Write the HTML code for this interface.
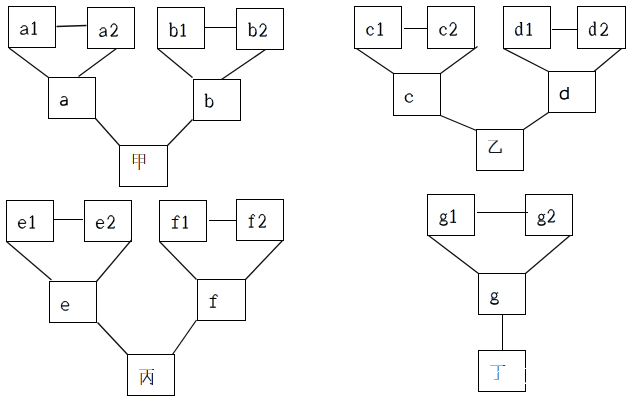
<!DOCTYPE html><html><head><meta charset="utf-8"><style>html,body{margin:0;padding:0;background:#fff;width:639px;height:405px;overflow:hidden}svg{display:block}</style></head><body>
<svg width="639" height="405" viewBox="0 0 639 405">
<g fill="none" stroke="#000" stroke-width="1" shape-rendering="crispEdges">
<rect x="8.5" y="6.5" width="47" height="41"/>
<rect x="87.5" y="7.5" width="47" height="41"/>
<rect x="48.5" y="77.5" width="47" height="41"/>
<rect x="157.5" y="7.5" width="47" height="41"/>
<rect x="236.5" y="8.5" width="47" height="41"/>
<rect x="193.5" y="79.5" width="47" height="41"/>
<rect x="119.5" y="145.5" width="48" height="41"/>
<rect x="354.5" y="6.5" width="47" height="42"/>
<rect x="427.5" y="6.5" width="47" height="42"/>
<rect x="393.5" y="73.5" width="47" height="42"/>
<rect x="503.5" y="6.5" width="47" height="42"/>
<rect x="577.5" y="6.5" width="48" height="42"/>
<rect x="548.5" y="71.5" width="47" height="41"/>
<rect x="476.5" y="129.5" width="47" height="41"/>
<rect x="6.5" y="200.5" width="47" height="41"/>
<rect x="84.5" y="200.5" width="47" height="41"/>
<rect x="49.5" y="281.5" width="47" height="41"/>
<rect x="159.5" y="200.5" width="47" height="41"/>
<rect x="236.5" y="199.5" width="47" height="41"/>
<rect x="197.5" y="279.5" width="48" height="41"/>
<rect x="127.5" y="354.5" width="47" height="41"/>
<rect x="427.5" y="194.5" width="47" height="41"/>
<rect x="525.5" y="194.5" width="47" height="41"/>
<rect x="478.5" y="273.5" width="47" height="41"/>
<rect x="478.5" y="350.5" width="47" height="41"/>
</g><g stroke="#111" stroke-width="1.3" fill="none">
<line x1="56.5" y1="26.5" x2="86.5" y2="25.5"/>
<line x1="9.0" y1="48.0" x2="48.5" y2="77.5"/>
<line x1="116.5" y1="48.5" x2="78.5" y2="76.5"/>
<line x1="95.5" y1="118.5" x2="119.5" y2="145.5"/>
<line x1="204.5" y1="27.5" x2="236.5" y2="27.5" stroke-width="1" shape-rendering="crispEdges" stroke="#000"/>
<line x1="157.5" y1="48.5" x2="192.5" y2="77.5"/>
<line x1="265.5" y1="49.5" x2="221.5" y2="79.5"/>
<line x1="192.5" y1="119.5" x2="167.5" y2="145.5"/>
<line x1="403.5" y1="28.5" x2="427.5" y2="28.5" stroke-width="1" shape-rendering="crispEdges" stroke="#000"/>
<line x1="356.5" y1="48.5" x2="393.5" y2="73.5"/>
<line x1="477.5" y1="46.5" x2="440.5" y2="73.5"/>
<line x1="440.5" y1="115.5" x2="476.5" y2="130.5"/>
<line x1="551.5" y1="29.5" x2="577.5" y2="29.5" stroke-width="1" shape-rendering="crispEdges" stroke="#000"/>
<line x1="503.5" y1="48.5" x2="548.5" y2="71.5"/>
<line x1="621.5" y1="48.5" x2="594.0" y2="71.5"/>
<line x1="548.5" y1="112.5" x2="523.5" y2="129.5"/>
<line x1="53.5" y1="219.5" x2="82.5" y2="219.5" stroke-width="1" shape-rendering="crispEdges" stroke="#000"/>
<line x1="6.5" y1="241.5" x2="51.5" y2="280.0"/>
<line x1="131.5" y1="240.0" x2="96.5" y2="281.5"/>
<line x1="97.5" y1="322.5" x2="127.5" y2="354.5"/>
<line x1="208.5" y1="220.5" x2="236.5" y2="220.5" stroke-width="1" shape-rendering="crispEdges" stroke="#000"/>
<line x1="159.5" y1="241.5" x2="196.5" y2="279.5"/>
<line x1="282.5" y1="240.5" x2="245.5" y2="279.5"/>
<line x1="196.5" y1="320.0" x2="172.5" y2="354.5"/>
<line x1="476.5" y1="212.5" x2="527.5" y2="212.5" stroke-width="1" shape-rendering="crispEdges" stroke="#000"/>
<line x1="428.5" y1="235.5" x2="478.5" y2="273.5"/>
<line x1="570.0" y1="235.5" x2="525.5" y2="273.5"/>
<line x1="502.5" y1="314.5" x2="502.5" y2="350.5" stroke-width="1" shape-rendering="crispEdges" stroke="#000"/>
</g>
<g fill="none" stroke-linecap="butt" stroke-linejoin="round">
<path transform="translate(20.15 25.70) scale(7.700 8.500)" d="M0.1,0.22 C0.14,0.06 0.32,0 0.5,0 C0.74,0 0.84,0.12 0.84,0.32 M0.84,0.9 Q0.86,1 1,0.97 M0.84,0.44 C0.45,0.5 0.05,0.56 0.02,0.78 M0.34,1 C0.56,1 0.74,0.9 0.84,0.78" stroke="#f6cc90" stroke-width="1.0" vector-effect="non-scaling-stroke"/>
<path transform="translate(20.15 25.70) scale(7.700 8.500)" d="M0.84,0.3 V0.92 M0.1,0.16 V0.28 M0.02,0.78 C0,0.94 0.14,1 0.34,1" stroke="#f6cc90" stroke-width="1.3" vector-effect="non-scaling-stroke"/>
<path transform="translate(21.05 25.70) scale(7.700 8.500)" d="M0.1,0.22 C0.14,0.06 0.32,0 0.5,0 C0.74,0 0.84,0.12 0.84,0.32 M0.84,0.9 Q0.86,1 1,0.97 M0.84,0.44 C0.45,0.5 0.05,0.56 0.02,0.78 M0.34,1 C0.56,1 0.74,0.9 0.84,0.78" stroke="#80b8f4" stroke-width="1.0" vector-effect="non-scaling-stroke"/>
<path transform="translate(21.05 25.70) scale(7.700 8.500)" d="M0.84,0.3 V0.92 M0.1,0.16 V0.28 M0.02,0.78 C0,0.94 0.14,1 0.34,1" stroke="#80b8f4" stroke-width="1.3" vector-effect="non-scaling-stroke"/>
<path transform="translate(20.60 25.70) scale(7.700 8.500)" d="M0.1,0.22 C0.14,0.06 0.32,0 0.5,0 C0.74,0 0.84,0.12 0.84,0.32 M0.84,0.9 Q0.86,1 1,0.97 M0.84,0.44 C0.45,0.5 0.05,0.56 0.02,0.78 M0.34,1 C0.56,1 0.74,0.9 0.84,0.78" stroke="#000" stroke-width="1.0" vector-effect="non-scaling-stroke"/>
<path transform="translate(20.60 25.70) scale(7.700 8.500)" d="M0.84,0.3 V0.92 M0.1,0.16 V0.28 M0.02,0.78 C0,0.94 0.14,1 0.34,1" stroke="#000" stroke-width="1.3" vector-effect="non-scaling-stroke"/>
<path transform="translate(31.25 21.80) scale(5.000 12.400)" d="M0.56,0.02 L0.06,0.18 M0,1 H1" stroke="#f6cc90" stroke-width="1.0" vector-effect="non-scaling-stroke"/>
<path transform="translate(31.25 21.80) scale(5.000 12.400)" d="M0.56,0 V1" stroke="#f6cc90" stroke-width="1.3" vector-effect="non-scaling-stroke"/>
<path transform="translate(32.15 21.80) scale(5.000 12.400)" d="M0.56,0.02 L0.06,0.18 M0,1 H1" stroke="#80b8f4" stroke-width="1.0" vector-effect="non-scaling-stroke"/>
<path transform="translate(32.15 21.80) scale(5.000 12.400)" d="M0.56,0 V1" stroke="#80b8f4" stroke-width="1.3" vector-effect="non-scaling-stroke"/>
<path transform="translate(31.70 21.80) scale(5.000 12.400)" d="M0.56,0.02 L0.06,0.18 M0,1 H1" stroke="#000" stroke-width="1.0" vector-effect="non-scaling-stroke"/>
<path transform="translate(31.70 21.80) scale(5.000 12.400)" d="M0.56,0 V1" stroke="#000" stroke-width="1.3" vector-effect="non-scaling-stroke"/>
<path transform="translate(99.25 27.80) scale(7.250 8.500)" d="M0.1,0.22 C0.14,0.06 0.32,0 0.5,0 C0.74,0 0.84,0.12 0.84,0.32 M0.84,0.9 Q0.86,1 1,0.97 M0.84,0.44 C0.45,0.5 0.05,0.56 0.02,0.78 M0.34,1 C0.56,1 0.74,0.9 0.84,0.78" stroke="#f6cc90" stroke-width="1.0" vector-effect="non-scaling-stroke"/>
<path transform="translate(99.25 27.80) scale(7.250 8.500)" d="M0.84,0.3 V0.92 M0.1,0.16 V0.28 M0.02,0.78 C0,0.94 0.14,1 0.34,1" stroke="#f6cc90" stroke-width="1.3" vector-effect="non-scaling-stroke"/>
<path transform="translate(100.15 27.80) scale(7.250 8.500)" d="M0.1,0.22 C0.14,0.06 0.32,0 0.5,0 C0.74,0 0.84,0.12 0.84,0.32 M0.84,0.9 Q0.86,1 1,0.97 M0.84,0.44 C0.45,0.5 0.05,0.56 0.02,0.78 M0.34,1 C0.56,1 0.74,0.9 0.84,0.78" stroke="#80b8f4" stroke-width="1.0" vector-effect="non-scaling-stroke"/>
<path transform="translate(100.15 27.80) scale(7.250 8.500)" d="M0.84,0.3 V0.92 M0.1,0.16 V0.28 M0.02,0.78 C0,0.94 0.14,1 0.34,1" stroke="#80b8f4" stroke-width="1.3" vector-effect="non-scaling-stroke"/>
<path transform="translate(99.70 27.80) scale(7.250 8.500)" d="M0.1,0.22 C0.14,0.06 0.32,0 0.5,0 C0.74,0 0.84,0.12 0.84,0.32 M0.84,0.9 Q0.86,1 1,0.97 M0.84,0.44 C0.45,0.5 0.05,0.56 0.02,0.78 M0.34,1 C0.56,1 0.74,0.9 0.84,0.78" stroke="#000" stroke-width="1.0" vector-effect="non-scaling-stroke"/>
<path transform="translate(99.70 27.80) scale(7.250 8.500)" d="M0.84,0.3 V0.92 M0.1,0.16 V0.28 M0.02,0.78 C0,0.94 0.14,1 0.34,1" stroke="#000" stroke-width="1.3" vector-effect="non-scaling-stroke"/>
<path transform="translate(110.15 23.90) scale(6.700 12.100)" d="M0.06,0.3 C0.08,0.1 0.27,0 0.5,0 C0.78,0 0.94,0.14 0.94,0.31 M0.04,1 H0.98 V0.88" stroke="#f6cc90" stroke-width="1.0" vector-effect="non-scaling-stroke"/>
<path transform="translate(110.15 23.90) scale(6.700 12.100)" d="M0.94,0.31 C0.94,0.52 0.68,0.66 0.04,1" stroke="#f6cc90" stroke-width="1.3" vector-effect="non-scaling-stroke"/>
<path transform="translate(111.05 23.90) scale(6.700 12.100)" d="M0.06,0.3 C0.08,0.1 0.27,0 0.5,0 C0.78,0 0.94,0.14 0.94,0.31 M0.04,1 H0.98 V0.88" stroke="#80b8f4" stroke-width="1.0" vector-effect="non-scaling-stroke"/>
<path transform="translate(111.05 23.90) scale(6.700 12.100)" d="M0.94,0.31 C0.94,0.52 0.68,0.66 0.04,1" stroke="#80b8f4" stroke-width="1.3" vector-effect="non-scaling-stroke"/>
<path transform="translate(110.60 23.90) scale(6.700 12.100)" d="M0.06,0.3 C0.08,0.1 0.27,0 0.5,0 C0.78,0 0.94,0.14 0.94,0.31 M0.04,1 H0.98 V0.88" stroke="#000" stroke-width="1.0" vector-effect="non-scaling-stroke"/>
<path transform="translate(110.60 23.90) scale(6.700 12.100)" d="M0.94,0.31 C0.94,0.52 0.68,0.66 0.04,1" stroke="#000" stroke-width="1.3" vector-effect="non-scaling-stroke"/>
<path transform="translate(168.95 22.70) scale(7.550 13.600)" d="M0,0.04 H0.18 M0.18,0.5 C0.34,0.37 0.48,0.33 0.6,0.33 C0.85,0.33 1,0.5 1,0.66 M0.6,1 C0.44,1 0.3,0.95 0.18,0.88" stroke="#f6cc90" stroke-width="1.0" vector-effect="non-scaling-stroke"/>
<path transform="translate(168.95 22.70) scale(7.550 13.600)" d="M0.18,0 V1 M1,0.66 C1,0.86 0.84,1 0.6,1" stroke="#f6cc90" stroke-width="1.3" vector-effect="non-scaling-stroke"/>
<path transform="translate(169.85 22.70) scale(7.550 13.600)" d="M0,0.04 H0.18 M0.18,0.5 C0.34,0.37 0.48,0.33 0.6,0.33 C0.85,0.33 1,0.5 1,0.66 M0.6,1 C0.44,1 0.3,0.95 0.18,0.88" stroke="#80b8f4" stroke-width="1.0" vector-effect="non-scaling-stroke"/>
<path transform="translate(169.85 22.70) scale(7.550 13.600)" d="M0.18,0 V1 M1,0.66 C1,0.86 0.84,1 0.6,1" stroke="#80b8f4" stroke-width="1.3" vector-effect="non-scaling-stroke"/>
<path transform="translate(169.40 22.70) scale(7.550 13.600)" d="M0,0.04 H0.18 M0.18,0.5 C0.34,0.37 0.48,0.33 0.6,0.33 C0.85,0.33 1,0.5 1,0.66 M0.6,1 C0.44,1 0.3,0.95 0.18,0.88" stroke="#000" stroke-width="1.0" vector-effect="non-scaling-stroke"/>
<path transform="translate(169.40 22.70) scale(7.550 13.600)" d="M0.18,0 V1 M1,0.66 C1,0.86 0.84,1 0.6,1" stroke="#000" stroke-width="1.3" vector-effect="non-scaling-stroke"/>
<path transform="translate(180.15 23.90) scale(5.200 12.100)" d="M0.56,0.02 L0.06,0.18 M0,1 H1" stroke="#f6cc90" stroke-width="1.0" vector-effect="non-scaling-stroke"/>
<path transform="translate(180.15 23.90) scale(5.200 12.100)" d="M0.56,0 V1" stroke="#f6cc90" stroke-width="1.3" vector-effect="non-scaling-stroke"/>
<path transform="translate(181.05 23.90) scale(5.200 12.100)" d="M0.56,0.02 L0.06,0.18 M0,1 H1" stroke="#80b8f4" stroke-width="1.0" vector-effect="non-scaling-stroke"/>
<path transform="translate(181.05 23.90) scale(5.200 12.100)" d="M0.56,0 V1" stroke="#80b8f4" stroke-width="1.3" vector-effect="non-scaling-stroke"/>
<path transform="translate(180.60 23.90) scale(5.200 12.100)" d="M0.56,0.02 L0.06,0.18 M0,1 H1" stroke="#000" stroke-width="1.0" vector-effect="non-scaling-stroke"/>
<path transform="translate(180.60 23.90) scale(5.200 12.100)" d="M0.56,0 V1" stroke="#000" stroke-width="1.3" vector-effect="non-scaling-stroke"/>
<path transform="translate(247.95 22.70) scale(7.600 13.300)" d="M0,0.04 H0.18 M0.18,0.5 C0.34,0.37 0.48,0.33 0.6,0.33 C0.85,0.33 1,0.5 1,0.66 M0.6,1 C0.44,1 0.3,0.95 0.18,0.88" stroke="#f6cc90" stroke-width="1.0" vector-effect="non-scaling-stroke"/>
<path transform="translate(247.95 22.70) scale(7.600 13.300)" d="M0.18,0 V1 M1,0.66 C1,0.86 0.84,1 0.6,1" stroke="#f6cc90" stroke-width="1.3" vector-effect="non-scaling-stroke"/>
<path transform="translate(248.85 22.70) scale(7.600 13.300)" d="M0,0.04 H0.18 M0.18,0.5 C0.34,0.37 0.48,0.33 0.6,0.33 C0.85,0.33 1,0.5 1,0.66 M0.6,1 C0.44,1 0.3,0.95 0.18,0.88" stroke="#80b8f4" stroke-width="1.0" vector-effect="non-scaling-stroke"/>
<path transform="translate(248.85 22.70) scale(7.600 13.300)" d="M0.18,0 V1 M1,0.66 C1,0.86 0.84,1 0.6,1" stroke="#80b8f4" stroke-width="1.3" vector-effect="non-scaling-stroke"/>
<path transform="translate(248.40 22.70) scale(7.600 13.300)" d="M0,0.04 H0.18 M0.18,0.5 C0.34,0.37 0.48,0.33 0.6,0.33 C0.85,0.33 1,0.5 1,0.66 M0.6,1 C0.44,1 0.3,0.95 0.18,0.88" stroke="#000" stroke-width="1.0" vector-effect="non-scaling-stroke"/>
<path transform="translate(248.40 22.70) scale(7.600 13.300)" d="M0.18,0 V1 M1,0.66 C1,0.86 0.84,1 0.6,1" stroke="#000" stroke-width="1.3" vector-effect="non-scaling-stroke"/>
<path transform="translate(259.15 23.90) scale(6.700 12.100)" d="M0.06,0.3 C0.08,0.1 0.27,0 0.5,0 C0.78,0 0.94,0.14 0.94,0.31 M0.04,1 H0.98 V0.88" stroke="#f6cc90" stroke-width="1.0" vector-effect="non-scaling-stroke"/>
<path transform="translate(259.15 23.90) scale(6.700 12.100)" d="M0.94,0.31 C0.94,0.52 0.68,0.66 0.04,1" stroke="#f6cc90" stroke-width="1.3" vector-effect="non-scaling-stroke"/>
<path transform="translate(260.05 23.90) scale(6.700 12.100)" d="M0.06,0.3 C0.08,0.1 0.27,0 0.5,0 C0.78,0 0.94,0.14 0.94,0.31 M0.04,1 H0.98 V0.88" stroke="#80b8f4" stroke-width="1.0" vector-effect="non-scaling-stroke"/>
<path transform="translate(260.05 23.90) scale(6.700 12.100)" d="M0.94,0.31 C0.94,0.52 0.68,0.66 0.04,1" stroke="#80b8f4" stroke-width="1.3" vector-effect="non-scaling-stroke"/>
<path transform="translate(259.60 23.90) scale(6.700 12.100)" d="M0.06,0.3 C0.08,0.1 0.27,0 0.5,0 C0.78,0 0.94,0.14 0.94,0.31 M0.04,1 H0.98 V0.88" stroke="#000" stroke-width="1.0" vector-effect="non-scaling-stroke"/>
<path transform="translate(259.60 23.90) scale(6.700 12.100)" d="M0.94,0.31 C0.94,0.52 0.68,0.66 0.04,1" stroke="#000" stroke-width="1.3" vector-effect="non-scaling-stroke"/>
<path transform="translate(366.55 26.60) scale(6.400 8.500)" d="M0.95,0.27 C0.88,0.07 0.72,0 0.55,0 C0.4,0 0.25,0.06 0.14,0.16 M0.22,0.9 C0.32,0.97 0.42,1 0.55,1 C0.75,1 0.9,0.9 1,0.76" stroke="#f6cc90" stroke-width="1.0" vector-effect="non-scaling-stroke"/>
<path transform="translate(366.55 26.60) scale(6.400 8.500)" d="M0.14,0.16 C0.04,0.28 0,0.38 0,0.5 C0,0.7 0.08,0.82 0.22,0.9 M0.9,0.18 V0.34" stroke="#f6cc90" stroke-width="1.3" vector-effect="non-scaling-stroke"/>
<path transform="translate(367.45 26.60) scale(6.400 8.500)" d="M0.95,0.27 C0.88,0.07 0.72,0 0.55,0 C0.4,0 0.25,0.06 0.14,0.16 M0.22,0.9 C0.32,0.97 0.42,1 0.55,1 C0.75,1 0.9,0.9 1,0.76" stroke="#80b8f4" stroke-width="1.0" vector-effect="non-scaling-stroke"/>
<path transform="translate(367.45 26.60) scale(6.400 8.500)" d="M0.14,0.16 C0.04,0.28 0,0.38 0,0.5 C0,0.7 0.08,0.82 0.22,0.9 M0.9,0.18 V0.34" stroke="#80b8f4" stroke-width="1.3" vector-effect="non-scaling-stroke"/>
<path transform="translate(367.00 26.60) scale(6.400 8.500)" d="M0.95,0.27 C0.88,0.07 0.72,0 0.55,0 C0.4,0 0.25,0.06 0.14,0.16 M0.22,0.9 C0.32,0.97 0.42,1 0.55,1 C0.75,1 0.9,0.9 1,0.76" stroke="#000" stroke-width="1.0" vector-effect="non-scaling-stroke"/>
<path transform="translate(367.00 26.60) scale(6.400 8.500)" d="M0.14,0.16 C0.04,0.28 0,0.38 0,0.5 C0,0.7 0.08,0.82 0.22,0.9 M0.9,0.18 V0.34" stroke="#000" stroke-width="1.3" vector-effect="non-scaling-stroke"/>
<path transform="translate(377.15 22.70) scale(5.200 12.400)" d="M0.56,0.02 L0.06,0.18 M0,1 H1" stroke="#f6cc90" stroke-width="1.0" vector-effect="non-scaling-stroke"/>
<path transform="translate(377.15 22.70) scale(5.200 12.400)" d="M0.56,0 V1" stroke="#f6cc90" stroke-width="1.3" vector-effect="non-scaling-stroke"/>
<path transform="translate(378.05 22.70) scale(5.200 12.400)" d="M0.56,0.02 L0.06,0.18 M0,1 H1" stroke="#80b8f4" stroke-width="1.0" vector-effect="non-scaling-stroke"/>
<path transform="translate(378.05 22.70) scale(5.200 12.400)" d="M0.56,0 V1" stroke="#80b8f4" stroke-width="1.3" vector-effect="non-scaling-stroke"/>
<path transform="translate(377.60 22.70) scale(5.200 12.400)" d="M0.56,0.02 L0.06,0.18 M0,1 H1" stroke="#000" stroke-width="1.0" vector-effect="non-scaling-stroke"/>
<path transform="translate(377.60 22.70) scale(5.200 12.400)" d="M0.56,0 V1" stroke="#000" stroke-width="1.3" vector-effect="non-scaling-stroke"/>
<path transform="translate(439.55 26.60) scale(6.400 8.500)" d="M0.95,0.27 C0.88,0.07 0.72,0 0.55,0 C0.4,0 0.25,0.06 0.14,0.16 M0.22,0.9 C0.32,0.97 0.42,1 0.55,1 C0.75,1 0.9,0.9 1,0.76" stroke="#f6cc90" stroke-width="1.0" vector-effect="non-scaling-stroke"/>
<path transform="translate(439.55 26.60) scale(6.400 8.500)" d="M0.14,0.16 C0.04,0.28 0,0.38 0,0.5 C0,0.7 0.08,0.82 0.22,0.9 M0.9,0.18 V0.34" stroke="#f6cc90" stroke-width="1.3" vector-effect="non-scaling-stroke"/>
<path transform="translate(440.45 26.60) scale(6.400 8.500)" d="M0.95,0.27 C0.88,0.07 0.72,0 0.55,0 C0.4,0 0.25,0.06 0.14,0.16 M0.22,0.9 C0.32,0.97 0.42,1 0.55,1 C0.75,1 0.9,0.9 1,0.76" stroke="#80b8f4" stroke-width="1.0" vector-effect="non-scaling-stroke"/>
<path transform="translate(440.45 26.60) scale(6.400 8.500)" d="M0.14,0.16 C0.04,0.28 0,0.38 0,0.5 C0,0.7 0.08,0.82 0.22,0.9 M0.9,0.18 V0.34" stroke="#80b8f4" stroke-width="1.3" vector-effect="non-scaling-stroke"/>
<path transform="translate(440.00 26.60) scale(6.400 8.500)" d="M0.95,0.27 C0.88,0.07 0.72,0 0.55,0 C0.4,0 0.25,0.06 0.14,0.16 M0.22,0.9 C0.32,0.97 0.42,1 0.55,1 C0.75,1 0.9,0.9 1,0.76" stroke="#000" stroke-width="1.0" vector-effect="non-scaling-stroke"/>
<path transform="translate(440.00 26.60) scale(6.400 8.500)" d="M0.14,0.16 C0.04,0.28 0,0.38 0,0.5 C0,0.7 0.08,0.82 0.22,0.9 M0.9,0.18 V0.34" stroke="#000" stroke-width="1.3" vector-effect="non-scaling-stroke"/>
<path transform="translate(449.25 22.70) scale(6.700 12.400)" d="M0.06,0.3 C0.08,0.1 0.27,0 0.5,0 C0.78,0 0.94,0.14 0.94,0.31 M0.04,1 H0.98 V0.88" stroke="#f6cc90" stroke-width="1.0" vector-effect="non-scaling-stroke"/>
<path transform="translate(449.25 22.70) scale(6.700 12.400)" d="M0.94,0.31 C0.94,0.52 0.68,0.66 0.04,1" stroke="#f6cc90" stroke-width="1.3" vector-effect="non-scaling-stroke"/>
<path transform="translate(450.15 22.70) scale(6.700 12.400)" d="M0.06,0.3 C0.08,0.1 0.27,0 0.5,0 C0.78,0 0.94,0.14 0.94,0.31 M0.04,1 H0.98 V0.88" stroke="#80b8f4" stroke-width="1.0" vector-effect="non-scaling-stroke"/>
<path transform="translate(450.15 22.70) scale(6.700 12.400)" d="M0.94,0.31 C0.94,0.52 0.68,0.66 0.04,1" stroke="#80b8f4" stroke-width="1.3" vector-effect="non-scaling-stroke"/>
<path transform="translate(449.70 22.70) scale(6.700 12.400)" d="M0.06,0.3 C0.08,0.1 0.27,0 0.5,0 C0.78,0 0.94,0.14 0.94,0.31 M0.04,1 H0.98 V0.88" stroke="#000" stroke-width="1.0" vector-effect="non-scaling-stroke"/>
<path transform="translate(449.70 22.70) scale(6.700 12.400)" d="M0.94,0.31 C0.94,0.52 0.68,0.66 0.04,1" stroke="#000" stroke-width="1.3" vector-effect="non-scaling-stroke"/>
<path transform="translate(515.25 22.10) scale(7.000 13.000)" d="M0.6,0.04 H0.8 M0.8,0.92 Q0.82,1 1,0.98 M0.8,0.46 C0.68,0.37 0.54,0.33 0.42,0.33 C0.15,0.33 0,0.5 0,0.67 M0.4,1 C0.55,1 0.7,0.95 0.8,0.87" stroke="#f6cc90" stroke-width="1.0" vector-effect="non-scaling-stroke"/>
<path transform="translate(515.25 22.10) scale(7.000 13.000)" d="M0.8,0 V0.94 M0,0.67 C0,0.87 0.15,1 0.4,1" stroke="#f6cc90" stroke-width="1.3" vector-effect="non-scaling-stroke"/>
<path transform="translate(516.15 22.10) scale(7.000 13.000)" d="M0.6,0.04 H0.8 M0.8,0.92 Q0.82,1 1,0.98 M0.8,0.46 C0.68,0.37 0.54,0.33 0.42,0.33 C0.15,0.33 0,0.5 0,0.67 M0.4,1 C0.55,1 0.7,0.95 0.8,0.87" stroke="#80b8f4" stroke-width="1.0" vector-effect="non-scaling-stroke"/>
<path transform="translate(516.15 22.10) scale(7.000 13.000)" d="M0.8,0 V0.94 M0,0.67 C0,0.87 0.15,1 0.4,1" stroke="#80b8f4" stroke-width="1.3" vector-effect="non-scaling-stroke"/>
<path transform="translate(515.70 22.10) scale(7.000 13.000)" d="M0.6,0.04 H0.8 M0.8,0.92 Q0.82,1 1,0.98 M0.8,0.46 C0.68,0.37 0.54,0.33 0.42,0.33 C0.15,0.33 0,0.5 0,0.67 M0.4,1 C0.55,1 0.7,0.95 0.8,0.87" stroke="#000" stroke-width="1.0" vector-effect="non-scaling-stroke"/>
<path transform="translate(515.70 22.10) scale(7.000 13.000)" d="M0.8,0 V0.94 M0,0.67 C0,0.87 0.15,1 0.4,1" stroke="#000" stroke-width="1.3" vector-effect="non-scaling-stroke"/>
<path transform="translate(526.15 23.00) scale(5.200 12.100)" d="M0.56,0.02 L0.06,0.18 M0,1 H1" stroke="#f6cc90" stroke-width="1.0" vector-effect="non-scaling-stroke"/>
<path transform="translate(526.15 23.00) scale(5.200 12.100)" d="M0.56,0 V1" stroke="#f6cc90" stroke-width="1.3" vector-effect="non-scaling-stroke"/>
<path transform="translate(527.05 23.00) scale(5.200 12.100)" d="M0.56,0.02 L0.06,0.18 M0,1 H1" stroke="#80b8f4" stroke-width="1.0" vector-effect="non-scaling-stroke"/>
<path transform="translate(527.05 23.00) scale(5.200 12.100)" d="M0.56,0 V1" stroke="#80b8f4" stroke-width="1.3" vector-effect="non-scaling-stroke"/>
<path transform="translate(526.60 23.00) scale(5.200 12.100)" d="M0.56,0.02 L0.06,0.18 M0,1 H1" stroke="#000" stroke-width="1.0" vector-effect="non-scaling-stroke"/>
<path transform="translate(526.60 23.00) scale(5.200 12.100)" d="M0.56,0 V1" stroke="#000" stroke-width="1.3" vector-effect="non-scaling-stroke"/>
<path transform="translate(589.15 21.70) scale(6.500 13.600)" d="M0.6,0.04 H0.8 M0.8,0.92 Q0.82,1 1,0.98 M0.8,0.46 C0.68,0.37 0.54,0.33 0.42,0.33 C0.15,0.33 0,0.5 0,0.67 M0.4,1 C0.55,1 0.7,0.95 0.8,0.87" stroke="#f6cc90" stroke-width="1.0" vector-effect="non-scaling-stroke"/>
<path transform="translate(589.15 21.70) scale(6.500 13.600)" d="M0.8,0 V0.94 M0,0.67 C0,0.87 0.15,1 0.4,1" stroke="#f6cc90" stroke-width="1.3" vector-effect="non-scaling-stroke"/>
<path transform="translate(590.05 21.70) scale(6.500 13.600)" d="M0.6,0.04 H0.8 M0.8,0.92 Q0.82,1 1,0.98 M0.8,0.46 C0.68,0.37 0.54,0.33 0.42,0.33 C0.15,0.33 0,0.5 0,0.67 M0.4,1 C0.55,1 0.7,0.95 0.8,0.87" stroke="#80b8f4" stroke-width="1.0" vector-effect="non-scaling-stroke"/>
<path transform="translate(590.05 21.70) scale(6.500 13.600)" d="M0.8,0 V0.94 M0,0.67 C0,0.87 0.15,1 0.4,1" stroke="#80b8f4" stroke-width="1.3" vector-effect="non-scaling-stroke"/>
<path transform="translate(589.60 21.70) scale(6.500 13.600)" d="M0.6,0.04 H0.8 M0.8,0.92 Q0.82,1 1,0.98 M0.8,0.46 C0.68,0.37 0.54,0.33 0.42,0.33 C0.15,0.33 0,0.5 0,0.67 M0.4,1 C0.55,1 0.7,0.95 0.8,0.87" stroke="#000" stroke-width="1.0" vector-effect="non-scaling-stroke"/>
<path transform="translate(589.60 21.70) scale(6.500 13.600)" d="M0.8,0 V0.94 M0,0.67 C0,0.87 0.15,1 0.4,1" stroke="#000" stroke-width="1.3" vector-effect="non-scaling-stroke"/>
<path transform="translate(600.05 23.10) scale(7.000 12.200)" d="M0.06,0.3 C0.08,0.1 0.27,0 0.5,0 C0.78,0 0.94,0.14 0.94,0.31 M0.04,1 H0.98 V0.88" stroke="#f6cc90" stroke-width="1.0" vector-effect="non-scaling-stroke"/>
<path transform="translate(600.05 23.10) scale(7.000 12.200)" d="M0.94,0.31 C0.94,0.52 0.68,0.66 0.04,1" stroke="#f6cc90" stroke-width="1.3" vector-effect="non-scaling-stroke"/>
<path transform="translate(600.95 23.10) scale(7.000 12.200)" d="M0.06,0.3 C0.08,0.1 0.27,0 0.5,0 C0.78,0 0.94,0.14 0.94,0.31 M0.04,1 H0.98 V0.88" stroke="#80b8f4" stroke-width="1.0" vector-effect="non-scaling-stroke"/>
<path transform="translate(600.95 23.10) scale(7.000 12.200)" d="M0.94,0.31 C0.94,0.52 0.68,0.66 0.04,1" stroke="#80b8f4" stroke-width="1.3" vector-effect="non-scaling-stroke"/>
<path transform="translate(600.50 23.10) scale(7.000 12.200)" d="M0.06,0.3 C0.08,0.1 0.27,0 0.5,0 C0.78,0 0.94,0.14 0.94,0.31 M0.04,1 H0.98 V0.88" stroke="#000" stroke-width="1.0" vector-effect="non-scaling-stroke"/>
<path transform="translate(600.50 23.10) scale(7.000 12.200)" d="M0.94,0.31 C0.94,0.52 0.68,0.66 0.04,1" stroke="#000" stroke-width="1.3" vector-effect="non-scaling-stroke"/>
<path transform="translate(18.25 219.55) scale(7.000 8.450)" d="M0.02,0.45 H0.98 C0.98,0.18 0.78,0 0.5,0 C0.3,0 0.14,0.1 0.06,0.25 M0.52,1 C0.72,1 0.88,0.9 0.97,0.76" stroke="#f6cc90" stroke-width="1.0" vector-effect="non-scaling-stroke"/>
<path transform="translate(18.25 219.55) scale(7.000 8.450)" d="M0.06,0.25 C0.02,0.32 0,0.42 0,0.52 C0,0.8 0.22,1 0.52,1" stroke="#f6cc90" stroke-width="1.3" vector-effect="non-scaling-stroke"/>
<path transform="translate(19.15 219.55) scale(7.000 8.450)" d="M0.02,0.45 H0.98 C0.98,0.18 0.78,0 0.5,0 C0.3,0 0.14,0.1 0.06,0.25 M0.52,1 C0.72,1 0.88,0.9 0.97,0.76" stroke="#80b8f4" stroke-width="1.0" vector-effect="non-scaling-stroke"/>
<path transform="translate(19.15 219.55) scale(7.000 8.450)" d="M0.06,0.25 C0.02,0.32 0,0.42 0,0.52 C0,0.8 0.22,1 0.52,1" stroke="#80b8f4" stroke-width="1.3" vector-effect="non-scaling-stroke"/>
<path transform="translate(18.70 219.55) scale(7.000 8.450)" d="M0.02,0.45 H0.98 C0.98,0.18 0.78,0 0.5,0 C0.3,0 0.14,0.1 0.06,0.25 M0.52,1 C0.72,1 0.88,0.9 0.97,0.76" stroke="#000" stroke-width="1.0" vector-effect="non-scaling-stroke"/>
<path transform="translate(18.70 219.55) scale(7.000 8.450)" d="M0.06,0.25 C0.02,0.32 0,0.42 0,0.52 C0,0.8 0.22,1 0.52,1" stroke="#000" stroke-width="1.3" vector-effect="non-scaling-stroke"/>
<path transform="translate(29.15 215.70) scale(5.200 12.300)" d="M0.56,0.02 L0.06,0.18 M0,1 H1" stroke="#f6cc90" stroke-width="1.0" vector-effect="non-scaling-stroke"/>
<path transform="translate(29.15 215.70) scale(5.200 12.300)" d="M0.56,0 V1" stroke="#f6cc90" stroke-width="1.3" vector-effect="non-scaling-stroke"/>
<path transform="translate(30.05 215.70) scale(5.200 12.300)" d="M0.56,0.02 L0.06,0.18 M0,1 H1" stroke="#80b8f4" stroke-width="1.0" vector-effect="non-scaling-stroke"/>
<path transform="translate(30.05 215.70) scale(5.200 12.300)" d="M0.56,0 V1" stroke="#80b8f4" stroke-width="1.3" vector-effect="non-scaling-stroke"/>
<path transform="translate(29.60 215.70) scale(5.200 12.300)" d="M0.56,0.02 L0.06,0.18 M0,1 H1" stroke="#000" stroke-width="1.0" vector-effect="non-scaling-stroke"/>
<path transform="translate(29.60 215.70) scale(5.200 12.300)" d="M0.56,0 V1" stroke="#000" stroke-width="1.3" vector-effect="non-scaling-stroke"/>
<path transform="translate(96.25 219.55) scale(7.000 8.750)" d="M0.02,0.45 H0.98 C0.98,0.18 0.78,0 0.5,0 C0.3,0 0.14,0.1 0.06,0.25 M0.52,1 C0.72,1 0.88,0.9 0.97,0.76" stroke="#f6cc90" stroke-width="1.0" vector-effect="non-scaling-stroke"/>
<path transform="translate(96.25 219.55) scale(7.000 8.750)" d="M0.06,0.25 C0.02,0.32 0,0.42 0,0.52 C0,0.8 0.22,1 0.52,1" stroke="#f6cc90" stroke-width="1.3" vector-effect="non-scaling-stroke"/>
<path transform="translate(97.15 219.55) scale(7.000 8.750)" d="M0.02,0.45 H0.98 C0.98,0.18 0.78,0 0.5,0 C0.3,0 0.14,0.1 0.06,0.25 M0.52,1 C0.72,1 0.88,0.9 0.97,0.76" stroke="#80b8f4" stroke-width="1.0" vector-effect="non-scaling-stroke"/>
<path transform="translate(97.15 219.55) scale(7.000 8.750)" d="M0.06,0.25 C0.02,0.32 0,0.42 0,0.52 C0,0.8 0.22,1 0.52,1" stroke="#80b8f4" stroke-width="1.3" vector-effect="non-scaling-stroke"/>
<path transform="translate(96.70 219.55) scale(7.000 8.750)" d="M0.02,0.45 H0.98 C0.98,0.18 0.78,0 0.5,0 C0.3,0 0.14,0.1 0.06,0.25 M0.52,1 C0.72,1 0.88,0.9 0.97,0.76" stroke="#000" stroke-width="1.0" vector-effect="non-scaling-stroke"/>
<path transform="translate(96.70 219.55) scale(7.000 8.750)" d="M0.06,0.25 C0.02,0.32 0,0.42 0,0.52 C0,0.8 0.22,1 0.52,1" stroke="#000" stroke-width="1.3" vector-effect="non-scaling-stroke"/>
<path transform="translate(107.15 215.70) scale(6.700 12.300)" d="M0.06,0.3 C0.08,0.1 0.27,0 0.5,0 C0.78,0 0.94,0.14 0.94,0.31 M0.04,1 H0.98 V0.88" stroke="#f6cc90" stroke-width="1.0" vector-effect="non-scaling-stroke"/>
<path transform="translate(107.15 215.70) scale(6.700 12.300)" d="M0.94,0.31 C0.94,0.52 0.68,0.66 0.04,1" stroke="#f6cc90" stroke-width="1.3" vector-effect="non-scaling-stroke"/>
<path transform="translate(108.05 215.70) scale(6.700 12.300)" d="M0.06,0.3 C0.08,0.1 0.27,0 0.5,0 C0.78,0 0.94,0.14 0.94,0.31 M0.04,1 H0.98 V0.88" stroke="#80b8f4" stroke-width="1.0" vector-effect="non-scaling-stroke"/>
<path transform="translate(108.05 215.70) scale(6.700 12.300)" d="M0.94,0.31 C0.94,0.52 0.68,0.66 0.04,1" stroke="#80b8f4" stroke-width="1.3" vector-effect="non-scaling-stroke"/>
<path transform="translate(107.60 215.70) scale(6.700 12.300)" d="M0.06,0.3 C0.08,0.1 0.27,0 0.5,0 C0.78,0 0.94,0.14 0.94,0.31 M0.04,1 H0.98 V0.88" stroke="#000" stroke-width="1.0" vector-effect="non-scaling-stroke"/>
<path transform="translate(107.60 215.70) scale(6.700 12.300)" d="M0.94,0.31 C0.94,0.52 0.68,0.66 0.04,1" stroke="#000" stroke-width="1.3" vector-effect="non-scaling-stroke"/>
<path transform="translate(171.35 215.90) scale(7.400 12.100)" d="M0.43,1 V0.28 C0.43,0.08 0.58,0 0.75,0 C0.9,0 1,0.06 1,0.15 M0,0.3 H0.87 M0.03,1 H0.8" stroke="#f6cc90" stroke-width="1.0" vector-effect="non-scaling-stroke"/>
<path transform="translate(172.25 215.90) scale(7.400 12.100)" d="M0.43,1 V0.28 C0.43,0.08 0.58,0 0.75,0 C0.9,0 1,0.06 1,0.15 M0,0.3 H0.87 M0.03,1 H0.8" stroke="#80b8f4" stroke-width="1.0" vector-effect="non-scaling-stroke"/>
<path transform="translate(171.80 215.90) scale(7.400 12.100)" d="M0.43,1 V0.28 C0.43,0.08 0.58,0 0.75,0 C0.9,0 1,0.06 1,0.15 M0,0.3 H0.87 M0.03,1 H0.8" stroke="#000" stroke-width="1.0" vector-effect="non-scaling-stroke"/>
<path transform="translate(182.35 215.90) scale(4.900 12.100)" d="M0.56,0.02 L0.06,0.18 M0,1 H1" stroke="#f6cc90" stroke-width="1.0" vector-effect="non-scaling-stroke"/>
<path transform="translate(182.35 215.90) scale(4.900 12.100)" d="M0.56,0 V1" stroke="#f6cc90" stroke-width="1.3" vector-effect="non-scaling-stroke"/>
<path transform="translate(183.25 215.90) scale(4.900 12.100)" d="M0.56,0.02 L0.06,0.18 M0,1 H1" stroke="#80b8f4" stroke-width="1.0" vector-effect="non-scaling-stroke"/>
<path transform="translate(183.25 215.90) scale(4.900 12.100)" d="M0.56,0 V1" stroke="#80b8f4" stroke-width="1.3" vector-effect="non-scaling-stroke"/>
<path transform="translate(182.80 215.90) scale(4.900 12.100)" d="M0.56,0.02 L0.06,0.18 M0,1 H1" stroke="#000" stroke-width="1.0" vector-effect="non-scaling-stroke"/>
<path transform="translate(182.80 215.90) scale(4.900 12.100)" d="M0.56,0 V1" stroke="#000" stroke-width="1.3" vector-effect="non-scaling-stroke"/>
<path transform="translate(248.25 214.50) scale(5.800 12.600)" d="M0.43,1 V0.28 C0.43,0.08 0.58,0 0.75,0 C0.9,0 1,0.06 1,0.15 M0,0.3 H0.87 M0.03,1 H0.8" stroke="#f6cc90" stroke-width="1.0" vector-effect="non-scaling-stroke"/>
<path transform="translate(249.15 214.50) scale(5.800 12.600)" d="M0.43,1 V0.28 C0.43,0.08 0.58,0 0.75,0 C0.9,0 1,0.06 1,0.15 M0,0.3 H0.87 M0.03,1 H0.8" stroke="#80b8f4" stroke-width="1.0" vector-effect="non-scaling-stroke"/>
<path transform="translate(248.70 214.50) scale(5.800 12.600)" d="M0.43,1 V0.28 C0.43,0.08 0.58,0 0.75,0 C0.9,0 1,0.06 1,0.15 M0,0.3 H0.87 M0.03,1 H0.8" stroke="#000" stroke-width="1.0" vector-effect="non-scaling-stroke"/>
<path transform="translate(258.25 214.50) scale(6.700 12.600)" d="M0.06,0.3 C0.08,0.1 0.27,0 0.5,0 C0.78,0 0.94,0.14 0.94,0.31 M0.04,1 H0.98 V0.88" stroke="#f6cc90" stroke-width="1.0" vector-effect="non-scaling-stroke"/>
<path transform="translate(258.25 214.50) scale(6.700 12.600)" d="M0.94,0.31 C0.94,0.52 0.68,0.66 0.04,1" stroke="#f6cc90" stroke-width="1.3" vector-effect="non-scaling-stroke"/>
<path transform="translate(259.15 214.50) scale(6.700 12.600)" d="M0.06,0.3 C0.08,0.1 0.27,0 0.5,0 C0.78,0 0.94,0.14 0.94,0.31 M0.04,1 H0.98 V0.88" stroke="#80b8f4" stroke-width="1.0" vector-effect="non-scaling-stroke"/>
<path transform="translate(259.15 214.50) scale(6.700 12.600)" d="M0.94,0.31 C0.94,0.52 0.68,0.66 0.04,1" stroke="#80b8f4" stroke-width="1.3" vector-effect="non-scaling-stroke"/>
<path transform="translate(258.70 214.50) scale(6.700 12.600)" d="M0.06,0.3 C0.08,0.1 0.27,0 0.5,0 C0.78,0 0.94,0.14 0.94,0.31 M0.04,1 H0.98 V0.88" stroke="#000" stroke-width="1.0" vector-effect="non-scaling-stroke"/>
<path transform="translate(258.70 214.50) scale(6.700 12.600)" d="M0.94,0.31 C0.94,0.52 0.68,0.66 0.04,1" stroke="#000" stroke-width="1.3" vector-effect="non-scaling-stroke"/>
<path transform="translate(439.55 213.50) scale(7.000 11.600)" d="M0.1,0.27 A0.36,0.24 0 1 0 0.82,0.27 A0.36,0.24 0 1 0 0.1,0.27 M0.76,0.1 Q0.86,0.03 1,0.05 M0.26,0.49 Q0.08,0.56 0.18,0.63 H0.74 M0,0.83 C0,0.73 0.12,0.68 0.22,0.65 M0.74,0.63 C0.94,0.63 1,0.72 1,0.8" stroke="#f6cc90" stroke-width="1.0" vector-effect="non-scaling-stroke"/>
<path transform="translate(439.55 213.50) scale(7.000 11.600)" d="M1,0.8 C1,0.93 0.8,1 0.5,1 C0.2,1 0,0.93 0,0.83" stroke="#f6cc90" stroke-width="1.3" vector-effect="non-scaling-stroke"/>
<path transform="translate(440.45 213.50) scale(7.000 11.600)" d="M0.1,0.27 A0.36,0.24 0 1 0 0.82,0.27 A0.36,0.24 0 1 0 0.1,0.27 M0.76,0.1 Q0.86,0.03 1,0.05 M0.26,0.49 Q0.08,0.56 0.18,0.63 H0.74 M0,0.83 C0,0.73 0.12,0.68 0.22,0.65 M0.74,0.63 C0.94,0.63 1,0.72 1,0.8" stroke="#80b8f4" stroke-width="1.0" vector-effect="non-scaling-stroke"/>
<path transform="translate(440.45 213.50) scale(7.000 11.600)" d="M1,0.8 C1,0.93 0.8,1 0.5,1 C0.2,1 0,0.93 0,0.83" stroke="#80b8f4" stroke-width="1.3" vector-effect="non-scaling-stroke"/>
<path transform="translate(440.00 213.50) scale(7.000 11.600)" d="M0.1,0.27 A0.36,0.24 0 1 0 0.82,0.27 A0.36,0.24 0 1 0 0.1,0.27 M0.76,0.1 Q0.86,0.03 1,0.05 M0.26,0.49 Q0.08,0.56 0.18,0.63 H0.74 M0,0.83 C0,0.73 0.12,0.68 0.22,0.65 M0.74,0.63 C0.94,0.63 1,0.72 1,0.8" stroke="#000" stroke-width="1.0" vector-effect="non-scaling-stroke"/>
<path transform="translate(440.00 213.50) scale(7.000 11.600)" d="M1,0.8 C1,0.93 0.8,1 0.5,1 C0.2,1 0,0.93 0,0.83" stroke="#000" stroke-width="1.3" vector-effect="non-scaling-stroke"/>
<path transform="translate(449.95 209.70) scale(5.600 12.600)" d="M0.56,0.02 L0.06,0.18 M0,1 H1" stroke="#f6cc90" stroke-width="1.0" vector-effect="non-scaling-stroke"/>
<path transform="translate(449.95 209.70) scale(5.600 12.600)" d="M0.56,0 V1" stroke="#f6cc90" stroke-width="1.3" vector-effect="non-scaling-stroke"/>
<path transform="translate(450.85 209.70) scale(5.600 12.600)" d="M0.56,0.02 L0.06,0.18 M0,1 H1" stroke="#80b8f4" stroke-width="1.0" vector-effect="non-scaling-stroke"/>
<path transform="translate(450.85 209.70) scale(5.600 12.600)" d="M0.56,0 V1" stroke="#80b8f4" stroke-width="1.3" vector-effect="non-scaling-stroke"/>
<path transform="translate(450.40 209.70) scale(5.600 12.600)" d="M0.56,0.02 L0.06,0.18 M0,1 H1" stroke="#000" stroke-width="1.0" vector-effect="non-scaling-stroke"/>
<path transform="translate(450.40 209.70) scale(5.600 12.600)" d="M0.56,0 V1" stroke="#000" stroke-width="1.3" vector-effect="non-scaling-stroke"/>
<path transform="translate(537.55 213.90) scale(7.000 11.200)" d="M0.1,0.27 A0.36,0.24 0 1 0 0.82,0.27 A0.36,0.24 0 1 0 0.1,0.27 M0.76,0.1 Q0.86,0.03 1,0.05 M0.26,0.49 Q0.08,0.56 0.18,0.63 H0.74 M0,0.83 C0,0.73 0.12,0.68 0.22,0.65 M0.74,0.63 C0.94,0.63 1,0.72 1,0.8" stroke="#f6cc90" stroke-width="1.0" vector-effect="non-scaling-stroke"/>
<path transform="translate(537.55 213.90) scale(7.000 11.200)" d="M1,0.8 C1,0.93 0.8,1 0.5,1 C0.2,1 0,0.93 0,0.83" stroke="#f6cc90" stroke-width="1.3" vector-effect="non-scaling-stroke"/>
<path transform="translate(538.45 213.90) scale(7.000 11.200)" d="M0.1,0.27 A0.36,0.24 0 1 0 0.82,0.27 A0.36,0.24 0 1 0 0.1,0.27 M0.76,0.1 Q0.86,0.03 1,0.05 M0.26,0.49 Q0.08,0.56 0.18,0.63 H0.74 M0,0.83 C0,0.73 0.12,0.68 0.22,0.65 M0.74,0.63 C0.94,0.63 1,0.72 1,0.8" stroke="#80b8f4" stroke-width="1.0" vector-effect="non-scaling-stroke"/>
<path transform="translate(538.45 213.90) scale(7.000 11.200)" d="M1,0.8 C1,0.93 0.8,1 0.5,1 C0.2,1 0,0.93 0,0.83" stroke="#80b8f4" stroke-width="1.3" vector-effect="non-scaling-stroke"/>
<path transform="translate(538.00 213.90) scale(7.000 11.200)" d="M0.1,0.27 A0.36,0.24 0 1 0 0.82,0.27 A0.36,0.24 0 1 0 0.1,0.27 M0.76,0.1 Q0.86,0.03 1,0.05 M0.26,0.49 Q0.08,0.56 0.18,0.63 H0.74 M0,0.83 C0,0.73 0.12,0.68 0.22,0.65 M0.74,0.63 C0.94,0.63 1,0.72 1,0.8" stroke="#000" stroke-width="1.0" vector-effect="non-scaling-stroke"/>
<path transform="translate(538.00 213.90) scale(7.000 11.200)" d="M1,0.8 C1,0.93 0.8,1 0.5,1 C0.2,1 0,0.93 0,0.83" stroke="#000" stroke-width="1.3" vector-effect="non-scaling-stroke"/>
<path transform="translate(547.25 209.70) scale(6.700 12.200)" d="M0.06,0.3 C0.08,0.1 0.27,0 0.5,0 C0.78,0 0.94,0.14 0.94,0.31 M0.04,1 H0.98 V0.88" stroke="#f6cc90" stroke-width="1.0" vector-effect="non-scaling-stroke"/>
<path transform="translate(547.25 209.70) scale(6.700 12.200)" d="M0.94,0.31 C0.94,0.52 0.68,0.66 0.04,1" stroke="#f6cc90" stroke-width="1.3" vector-effect="non-scaling-stroke"/>
<path transform="translate(548.15 209.70) scale(6.700 12.200)" d="M0.06,0.3 C0.08,0.1 0.27,0 0.5,0 C0.78,0 0.94,0.14 0.94,0.31 M0.04,1 H0.98 V0.88" stroke="#80b8f4" stroke-width="1.0" vector-effect="non-scaling-stroke"/>
<path transform="translate(548.15 209.70) scale(6.700 12.200)" d="M0.94,0.31 C0.94,0.52 0.68,0.66 0.04,1" stroke="#80b8f4" stroke-width="1.3" vector-effect="non-scaling-stroke"/>
<path transform="translate(547.70 209.70) scale(6.700 12.200)" d="M0.06,0.3 C0.08,0.1 0.27,0 0.5,0 C0.78,0 0.94,0.14 0.94,0.31 M0.04,1 H0.98 V0.88" stroke="#000" stroke-width="1.0" vector-effect="non-scaling-stroke"/>
<path transform="translate(547.70 209.70) scale(6.700 12.200)" d="M0.94,0.31 C0.94,0.52 0.68,0.66 0.04,1" stroke="#000" stroke-width="1.3" vector-effect="non-scaling-stroke"/>
<path transform="translate(60.25 96.60) scale(6.700 8.600)" d="M0.1,0.1 C0.25,0.02 0.4,0 0.55,0 C0.8,0 0.92,0.15 0.92,0.36" stroke="#f6cc90" stroke-width="1.0" vector-effect="non-scaling-stroke"/>
<path transform="translate(60.25 96.60) scale(6.700 8.600)" d="M0.92,0.34 V1 M0.92,0.44 C0.5,0.44 0,0.5 0,0.75 C0,0.92 0.15,1 0.38,1 C0.6,1 0.8,0.9 0.92,0.8" stroke="#f6cc90" stroke-width="1.3" vector-effect="non-scaling-stroke"/>
<path transform="translate(61.15 96.60) scale(6.700 8.600)" d="M0.1,0.1 C0.25,0.02 0.4,0 0.55,0 C0.8,0 0.92,0.15 0.92,0.36" stroke="#80b8f4" stroke-width="1.0" vector-effect="non-scaling-stroke"/>
<path transform="translate(61.15 96.60) scale(6.700 8.600)" d="M0.92,0.34 V1 M0.92,0.44 C0.5,0.44 0,0.5 0,0.75 C0,0.92 0.15,1 0.38,1 C0.6,1 0.8,0.9 0.92,0.8" stroke="#80b8f4" stroke-width="1.3" vector-effect="non-scaling-stroke"/>
<path transform="translate(60.70 96.60) scale(6.700 8.600)" d="M0.1,0.1 C0.25,0.02 0.4,0 0.55,0 C0.8,0 0.92,0.15 0.92,0.36" stroke="#000" stroke-width="1.0" vector-effect="non-scaling-stroke"/>
<path transform="translate(60.70 96.60) scale(6.700 8.600)" d="M0.92,0.34 V1 M0.92,0.44 C0.5,0.44 0,0.5 0,0.75 C0,0.92 0.15,1 0.38,1 C0.6,1 0.8,0.9 0.92,0.8" stroke="#000" stroke-width="1.3" vector-effect="non-scaling-stroke"/>
<path transform="translate(204.45 93.80) scale(7.800 13.200)" d="M0,0.04 H0.18 M0.18,0.5 C0.34,0.37 0.48,0.33 0.6,0.33 C0.85,0.33 1,0.5 1,0.66 M0.6,1 C0.44,1 0.3,0.95 0.18,0.88" stroke="#f6cc90" stroke-width="1.0" vector-effect="non-scaling-stroke"/>
<path transform="translate(204.45 93.80) scale(7.800 13.200)" d="M0.18,0 V1 M1,0.66 C1,0.86 0.84,1 0.6,1" stroke="#f6cc90" stroke-width="1.3" vector-effect="non-scaling-stroke"/>
<path transform="translate(205.35 93.80) scale(7.800 13.200)" d="M0,0.04 H0.18 M0.18,0.5 C0.34,0.37 0.48,0.33 0.6,0.33 C0.85,0.33 1,0.5 1,0.66 M0.6,1 C0.44,1 0.3,0.95 0.18,0.88" stroke="#80b8f4" stroke-width="1.0" vector-effect="non-scaling-stroke"/>
<path transform="translate(205.35 93.80) scale(7.800 13.200)" d="M0.18,0 V1 M1,0.66 C1,0.86 0.84,1 0.6,1" stroke="#80b8f4" stroke-width="1.3" vector-effect="non-scaling-stroke"/>
<path transform="translate(204.90 93.80) scale(7.800 13.200)" d="M0,0.04 H0.18 M0.18,0.5 C0.34,0.37 0.48,0.33 0.6,0.33 C0.85,0.33 1,0.5 1,0.66 M0.6,1 C0.44,1 0.3,0.95 0.18,0.88" stroke="#000" stroke-width="1.0" vector-effect="non-scaling-stroke"/>
<path transform="translate(204.90 93.80) scale(7.800 13.200)" d="M0.18,0 V1 M1,0.66 C1,0.86 0.84,1 0.6,1" stroke="#000" stroke-width="1.3" vector-effect="non-scaling-stroke"/>
<path transform="translate(404.95 93.80) scale(7.300 8.400)" d="M0.95,0.27 C0.88,0.07 0.72,0 0.55,0 C0.4,0 0.25,0.06 0.14,0.16 M0.22,0.9 C0.32,0.97 0.42,1 0.55,1 C0.75,1 0.9,0.9 1,0.76" stroke="#f6cc90" stroke-width="1.0" vector-effect="non-scaling-stroke"/>
<path transform="translate(404.95 93.80) scale(7.300 8.400)" d="M0.14,0.16 C0.04,0.28 0,0.38 0,0.5 C0,0.7 0.08,0.82 0.22,0.9 M0.9,0.18 V0.34" stroke="#f6cc90" stroke-width="1.3" vector-effect="non-scaling-stroke"/>
<path transform="translate(405.85 93.80) scale(7.300 8.400)" d="M0.95,0.27 C0.88,0.07 0.72,0 0.55,0 C0.4,0 0.25,0.06 0.14,0.16 M0.22,0.9 C0.32,0.97 0.42,1 0.55,1 C0.75,1 0.9,0.9 1,0.76" stroke="#80b8f4" stroke-width="1.0" vector-effect="non-scaling-stroke"/>
<path transform="translate(405.85 93.80) scale(7.300 8.400)" d="M0.14,0.16 C0.04,0.28 0,0.38 0,0.5 C0,0.7 0.08,0.82 0.22,0.9 M0.9,0.18 V0.34" stroke="#80b8f4" stroke-width="1.3" vector-effect="non-scaling-stroke"/>
<path transform="translate(405.40 93.80) scale(7.300 8.400)" d="M0.95,0.27 C0.88,0.07 0.72,0 0.55,0 C0.4,0 0.25,0.06 0.14,0.16 M0.22,0.9 C0.32,0.97 0.42,1 0.55,1 C0.75,1 0.9,0.9 1,0.76" stroke="#000" stroke-width="1.0" vector-effect="non-scaling-stroke"/>
<path transform="translate(405.40 93.80) scale(7.300 8.400)" d="M0.14,0.16 C0.04,0.28 0,0.38 0,0.5 C0,0.7 0.08,0.82 0.22,0.9 M0.9,0.18 V0.34" stroke="#000" stroke-width="1.3" vector-effect="non-scaling-stroke"/>
<path transform="translate(559.95 86.90) scale(8.200 12.100)" d="M0.92,0 V1 M0.92,0.44 C0.8,0.32 0.65,0.28 0.5,0.28 C0.18,0.28 0,0.48 0,0.65 C0,0.88 0.18,1 0.45,1 C0.65,1 0.82,0.92 0.92,0.82" stroke="#f6cc90" stroke-width="1.3" vector-effect="non-scaling-stroke"/>
<path transform="translate(560.85 86.90) scale(8.200 12.100)" d="M0.92,0 V1 M0.92,0.44 C0.8,0.32 0.65,0.28 0.5,0.28 C0.18,0.28 0,0.48 0,0.65 C0,0.88 0.18,1 0.45,1 C0.65,1 0.82,0.92 0.92,0.82" stroke="#80b8f4" stroke-width="1.3" vector-effect="non-scaling-stroke"/>
<path transform="translate(560.40 86.90) scale(8.200 12.100)" d="M0.92,0 V1 M0.92,0.44 C0.8,0.32 0.65,0.28 0.5,0.28 C0.18,0.28 0,0.48 0,0.65 C0,0.88 0.18,1 0.45,1 C0.65,1 0.82,0.92 0.92,0.82" stroke="#000" stroke-width="1.3" vector-effect="non-scaling-stroke"/>
<path transform="translate(61.05 301.50) scale(7.300 8.800)" d="M0.02,0.5 H0.98 C0.98,0.2 0.78,0 0.5,0 C0.2,0 0,0.22 0,0.52 C0,0.82 0.22,1 0.55,1 C0.72,1 0.85,0.95 0.95,0.88" stroke="#f6cc90" stroke-width="1.0" vector-effect="non-scaling-stroke"/>
<path transform="translate(61.95 301.50) scale(7.300 8.800)" d="M0.02,0.5 H0.98 C0.98,0.2 0.78,0 0.5,0 C0.2,0 0,0.22 0,0.52 C0,0.82 0.22,1 0.55,1 C0.72,1 0.85,0.95 0.95,0.88" stroke="#80b8f4" stroke-width="1.0" vector-effect="non-scaling-stroke"/>
<path transform="translate(61.50 301.50) scale(7.300 8.800)" d="M0.02,0.5 H0.98 C0.98,0.2 0.78,0 0.5,0 C0.2,0 0,0.22 0,0.52 C0,0.82 0.22,1 0.55,1 C0.72,1 0.85,0.95 0.95,0.88" stroke="#000" stroke-width="1.0" vector-effect="non-scaling-stroke"/>
<path transform="translate(209.25 294.70) scale(7.600 12.500)" d="M0.43,1 V0.28 C0.43,0.08 0.58,0 0.75,0 C0.9,0 1,0.06 1,0.15 M0,0.3 H0.87 M0.03,1 H0.8" stroke="#f6cc90" stroke-width="1.0" vector-effect="non-scaling-stroke"/>
<path transform="translate(210.15 294.70) scale(7.600 12.500)" d="M0.43,1 V0.28 C0.43,0.08 0.58,0 0.75,0 C0.9,0 1,0.06 1,0.15 M0,0.3 H0.87 M0.03,1 H0.8" stroke="#80b8f4" stroke-width="1.0" vector-effect="non-scaling-stroke"/>
<path transform="translate(209.70 294.70) scale(7.600 12.500)" d="M0.43,1 V0.28 C0.43,0.08 0.58,0 0.75,0 C0.9,0 1,0.06 1,0.15 M0,0.3 H0.87 M0.03,1 H0.8" stroke="#000" stroke-width="1.0" vector-effect="non-scaling-stroke"/>
<path transform="translate(490.35 292.30) scale(7.300 11.700)" d="M0.1,0.27 A0.36,0.24 0 1 0 0.82,0.27 A0.36,0.24 0 1 0 0.1,0.27 M0.76,0.1 Q0.86,0.03 1,0.05 M0.26,0.49 Q0.08,0.56 0.18,0.63 H0.74 M0,0.83 C0,0.73 0.12,0.68 0.22,0.65 M0.74,0.63 C0.94,0.63 1,0.72 1,0.8" stroke="#f6cc90" stroke-width="1.0" vector-effect="non-scaling-stroke"/>
<path transform="translate(490.35 292.30) scale(7.300 11.700)" d="M1,0.8 C1,0.93 0.8,1 0.5,1 C0.2,1 0,0.93 0,0.83" stroke="#f6cc90" stroke-width="1.3" vector-effect="non-scaling-stroke"/>
<path transform="translate(491.25 292.30) scale(7.300 11.700)" d="M0.1,0.27 A0.36,0.24 0 1 0 0.82,0.27 A0.36,0.24 0 1 0 0.1,0.27 M0.76,0.1 Q0.86,0.03 1,0.05 M0.26,0.49 Q0.08,0.56 0.18,0.63 H0.74 M0,0.83 C0,0.73 0.12,0.68 0.22,0.65 M0.74,0.63 C0.94,0.63 1,0.72 1,0.8" stroke="#80b8f4" stroke-width="1.0" vector-effect="non-scaling-stroke"/>
<path transform="translate(491.25 292.30) scale(7.300 11.700)" d="M1,0.8 C1,0.93 0.8,1 0.5,1 C0.2,1 0,0.93 0,0.83" stroke="#80b8f4" stroke-width="1.3" vector-effect="non-scaling-stroke"/>
<path transform="translate(490.80 292.30) scale(7.300 11.700)" d="M0.1,0.27 A0.36,0.24 0 1 0 0.82,0.27 A0.36,0.24 0 1 0 0.1,0.27 M0.76,0.1 Q0.86,0.03 1,0.05 M0.26,0.49 Q0.08,0.56 0.18,0.63 H0.74 M0,0.83 C0,0.73 0.12,0.68 0.22,0.65 M0.74,0.63 C0.94,0.63 1,0.72 1,0.8" stroke="#000" stroke-width="1.0" vector-effect="non-scaling-stroke"/>
<path transform="translate(490.80 292.30) scale(7.300 11.700)" d="M1,0.8 C1,0.93 0.8,1 0.5,1 C0.2,1 0,0.93 0,0.83" stroke="#000" stroke-width="1.3" vector-effect="non-scaling-stroke"/>
</g>
<g fill="none" stroke-linecap="butt">
<g shape-rendering="crispEdges">
<path d="M133 154.5 H145 M133 158.5 H145 M133 162.5 H145" stroke="#aaaaaa" stroke-width="1"/>
<path d="M132.5 154 V164" stroke="#f4f0a0" stroke-width="1"/>
<path d="M145.5 154 V164" stroke="#b0f0ff" stroke-width="1"/>
<path d="M133.5 154 V164" stroke="#3c2468" stroke-width="1"/>
<path d="M144.5 154 V164" stroke="#602848" stroke-width="1"/>
<path d="M138.5 154 V170" stroke="#f0b070" stroke-width="1"/>
<path d="M139.5 154 V170" stroke="#1060c0" stroke-width="1"/>
</g>
<path d="M488 140.5 H497" stroke="#b8b8b8" stroke-width="1"/>
<path d="M497.5 140.5 C494 143.5 490.5 147.5 489.5 150 Q488.8 152.5 491 152.5 H501 V148.5" transform="translate(-0.7 0)" stroke="#f4c088" stroke-width="1"/>
<path d="M497.5 140.5 C494 143.5 490.5 147.5 489.5 150 Q488.8 152.5 491 152.5 H501 V148.5" transform="translate(0.7 0)" stroke="#88c0f4" stroke-width="1"/>
<path d="M497.5 140.5 C494 143.5 490.5 147.5 489.5 150 Q488.8 152.5 491 152.5 H501 V148.5" stroke="#101828" stroke-width="1.05"/>
<g shape-rendering="crispEdges">
<path d="M139 369.5 H152" stroke="#b8b8b8" stroke-width="1"/>
<path d="M152 369.5 H154" stroke="#303050" stroke-width="1"/>
<path d="M142 373.5 H151" stroke="#b0b0b0" stroke-width="1"/>
<path d="M140.5 373 V385" stroke="#f4c890" stroke-width="1"/>
<path d="M141.5 373 V385" stroke="#2060c0" stroke-width="1"/>
<path d="M151.5 373 V384" stroke="#ecc090" stroke-width="1"/>
<path d="M152.5 373 V385" stroke="#102050" stroke-width="1"/>
<path d="M146.5 370 V375" stroke="#f0b870" stroke-width="1"/>
<path d="M147.5 370 V376" stroke="#203070" stroke-width="1"/>
</g>
<path d="M147.3 375 Q145 379 142.7 382.3 M147.3 376.2 L151 381 M152.8 384.3 L150 383.4" stroke="#1a2040" stroke-width="1.15"/>
<g shape-rendering="crispEdges">
<path d="M490 365.5 H503" stroke="#b8b0b0" stroke-width="1"/>
<path d="M503 365.5 H505" stroke="#503050" stroke-width="1"/>
<path d="M505 365.5 H506" stroke="#a0d0f0" stroke-width="1"/>
<path d="M497.5 366 V380" stroke="#e8b890" stroke-width="1" stroke-dasharray="6 1 8"/>
<path d="M498.5 366 V380" stroke="#5c9ce0" stroke-width="1" stroke-dasharray="5 1 9"/>
<path d="M494 379.5 H498" stroke="#d89870" stroke-width="1"/>
<path d="M525 368.5 H526 M525 383.5 H526" stroke="#fff" stroke-width="1"/>
<path d="M525 382.5 H526" stroke="#999" stroke-width="1"/>
</g>
</g></svg></body></html>
